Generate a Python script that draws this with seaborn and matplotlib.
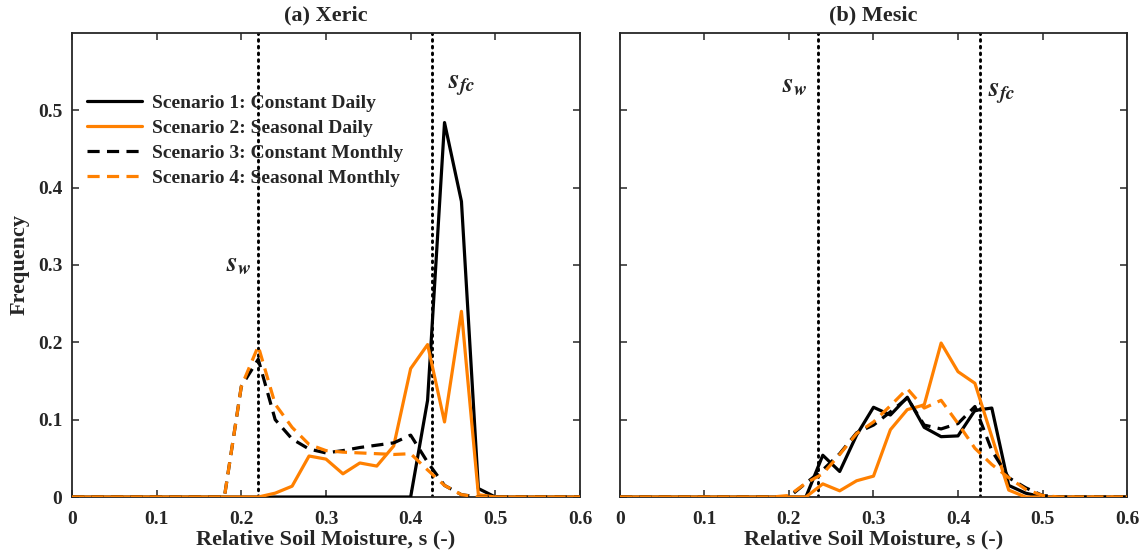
import numpy as np
import pandas as pd
import matplotlib
matplotlib.use("Agg")
import matplotlib.pyplot as plt
import seaborn as sns

# -----------------------------------
# data
# -----------------------------------
s_bins = [round(0.02 * i, 2) for i in range(31)]   # 0 .. 0.6

scenario_names = [
    "Scenario 1: Constant Daily",
    "Scenario 2: Seasonal Daily",
    "Scenario 3: Constant Monthly",
    "Scenario 4: Seasonal Monthly",
]

# (a) Xeric
xeric_s1 = [0, 0, 0, 0, 0, 0, 0, 0, 0, 0, 0, 0, 0, 0, 0, 0, 0, 0, 0, 0, 0,
            0.125, 0.484, 0.382, 0.011, 0, 0, 0, 0, 0, 0]
xeric_s2 = [0, 0, 0, 0, 0, 0, 0, 0, 0, 0, 0, 0, 0.005, 0.014, 0.053, 0.049, 0.030,
            0.044, 0.040, 0.066, 0.166, 0.197, 0.097, 0.240, 0.003, 0, 0, 0, 0, 0, 0]
xeric_s3 = [0, 0, 0, 0, 0, 0, 0, 0, 0, 0, 0.143, 0.178, 0.100, 0.075, 0.062, 0.057,
            0.060, 0.064, 0.067, 0.070, 0.080, 0.045, 0.015, 0.003, 0, 0, 0, 0, 0, 0, 0]
xeric_s4 = [0, 0, 0, 0, 0, 0, 0, 0, 0, 0, 0.143, 0.195, 0.120, 0.090, 0.068, 0.060,
            0.058, 0.057, 0.056, 0.055, 0.056, 0.035, 0.015, 0.003, 0, 0, 0, 0, 0, 0, 0]

# (b) Mesic
mesic_s1 = [0, 0, 0, 0, 0, 0, 0, 0, 0, 0, 0, 0, 0.054, 0.033, 0.080, 0.116,
            0.106, 0.129, 0.090, 0.078, 0.079, 0.112, 0.115, 0.015, 0.005, 0, 0, 0, 0, 0, 0]
mesic_s2 = [0, 0, 0, 0, 0, 0, 0, 0, 0, 0, 0, 0, 0.017, 0.008, 0.021, 0.027,
            0.087, 0.113, 0.119, 0.199, 0.162, 0.147, 0.078, 0.009, 0, 0, 0, 0, 0, 0, 0]
mesic_s3 = [0, 0, 0, 0, 0, 0, 0, 0, 0, 0, 0, 0.018, 0.035, 0.056, 0.083, 0.093,
            0.110, 0.128, 0.093, 0.088, 0.095, 0.117, 0.060, 0.025, 0.012, 0.002, 0, 0, 0, 0, 0]
mesic_s4 = [0, 0, 0, 0, 0, 0, 0, 0, 0, 0, 0.002, 0.018, 0.030, 0.055, 0.082, 0.097,
            0.118, 0.140, 0.115, 0.125, 0.095, 0.063, 0.042, 0.025, 0.010, 0.002, 0, 0, 0, 0, 0]

panel_titles = ["(a) Xeric", "(b) Mesic"]
sw_values = [0.22, 0.234]
sfc_values = [0.425, 0.426]

x_ticks = [0, 0.1, 0.2, 0.3, 0.4, 0.5, 0.6]
x_tick_labels = ["0", "0.1", "0.2", "0.3", "0.4", "0.5", "0.6"]
y_ticks = [0, 0.1, 0.2, 0.3, 0.4, 0.5]
y_tick_labels = ["0", "0.1", "0.2", "0.3", "0.4", "0.5"]


def long_table(series_list):
    frames = []
    for name, vals in zip(scenario_names, series_list):
        frames.append(pd.DataFrame({"s": s_bins, "freq": vals, "scenario": name}))
    return pd.concat(frames, ignore_index=True)


tables = [
    long_table([xeric_s1, xeric_s2, xeric_s3, xeric_s4]),
    long_table([mesic_s1, mesic_s2, mesic_s3, mesic_s4]),
]

# -----------------------------------
# style
# -----------------------------------
sns.set_style("ticks")
plt.rcParams["font.family"] = ["Liberation Serif", "DejaVu Serif"]
plt.rcParams["font.weight"] = "bold"
plt.rcParams["mathtext.fontset"] = "stix"

orange = "#ff8000"
palette = {
    scenario_names[0]: "black",
    scenario_names[1]: orange,
    scenario_names[2]: "black",
    scenario_names[3]: orange,
}
dash_map = {
    scenario_names[0]: "",
    scenario_names[1]: "",
    scenario_names[2]: (3.8, 2.3),
    scenario_names[3]: (3.8, 2.3),
}

fig = plt.figure(figsize=(11.39, 5.52), dpi=100)
ax_a = fig.add_axes([0.0632, 0.0996, 0.4460, 0.8410])
ax_b = fig.add_axes([0.5443, 0.0996, 0.4452, 0.8410])
axes = [ax_a, ax_b]

for i, ax in enumerate(axes):
    sns.lineplot(data=tables[i], x="s", y="freq", hue="scenario", style="scenario",
                 palette=palette, dashes=dash_map, hue_order=scenario_names,
                 style_order=scenario_names, linewidth=2.3, legend=(i == 0),
                 ax=ax, zorder=3)

    ax.axvline(sw_values[i], color="black", linestyle=(0, (0.6, 1.7)),
               linewidth=2.1, dash_capstyle="round", zorder=2)
    ax.axvline(sfc_values[i], color="black", linestyle=(0, (0.6, 1.7)),
               linewidth=2.1, dash_capstyle="round", zorder=2)

    ax.set_xlim(0, 0.6)
    ax.set_ylim(0, 0.6)
    ax.set_xticks(x_ticks)
    ax.set_xticklabels(x_tick_labels, fontsize=14, fontweight="bold")
    ax.set_yticks(y_ticks)
    if i == 0:
        ax.set_yticklabels(y_tick_labels, fontsize=14, fontweight="bold")
        ax.set_ylabel("Frequency", fontsize=16, fontweight="bold", labelpad=6)
    else:
        ax.set_yticklabels([])
        ax.set_ylabel("")
    ax.set_xlabel("Relative Soil Moisture, s (-)", fontsize=16, fontweight="bold",
                  labelpad=1)
    ax.set_title(panel_titles[i], fontsize=16, fontweight="bold", pad=9)
    ax.tick_params(direction="in", top=True, right=True, length=5, width=1.1, pad=7)
    ax.tick_params(axis="x", pad=10)
    for sp in ax.spines.values():
        sp.set_visible(True)
        sp.set_linewidth(1.3)

# labels for wilting point and field capacity
ax_a.text(0.197, 0.30, r"$s_w$", fontsize=20, ha="center", va="center")
ax_a.text(0.46, 0.532, r"$s_{fc}$", fontsize=20, ha="center", va="center")
ax_b.text(0.207, 0.532, r"$s_w$", fontsize=20, ha="center", va="center")
ax_b.text(0.452, 0.522, r"$s_{fc}$", fontsize=20, ha="center", va="center")

handles, labels = ax_a.get_legend_handles_labels()
ax_a.legend(handles, labels, loc="upper left", bbox_to_anchor=(-0.004, 0.905),
            frameon=False, prop={"size": 14, "weight": "bold"},
            handlelength=2.8, handletextpad=0.5, labelspacing=0.38)

plt.savefig("out.png", dpi=100)
plt.close()
